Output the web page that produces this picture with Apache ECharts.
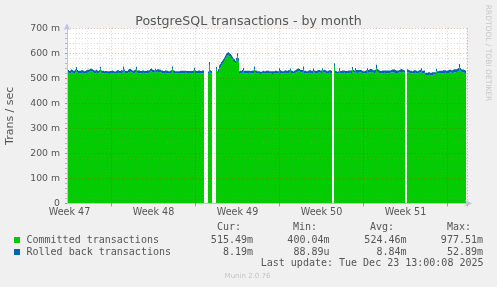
<!DOCTYPE html>
<html><head><meta charset="utf-8">
<script src="https://cdn.jsdelivr.net/npm/echarts@6/dist/echarts.min.js"></script>
<style>html,body{margin:0;padding:0;background:#f0f0f0;}#c{width:497px;height:287px;}</style>
</head><body><div id="c"></div>
<script>
const chartTitle = 'PostgreSQL transactions - by month';
const yAxisName = 'Trans / sec';
const seriesNames = ['Committed transactions', 'Rolled back transactions'];
const seriesColors = ['#00cc00', '#0066b3'];
const weekLabels = ['Week 47', 'Week 48', 'Week 49', 'Week 50', 'Week 51'];
const yMax = 700, yStep = 100;
const startTime = Date.UTC(2025, 10, 20, 8, 0); // first 2-hour slot
const stepHours = 2;

// Committed transactions (milli-trans/sec), one value per 2-hour slot
const committed = [
521,522,520,521,523,522,520,521,
524,532,523,
521,520,519,520,522,521,520,519,521,522,523,
526,528,527,526,524,
521,520,522,521,520,523,
538,
522,520,519,518,520,521,519,518,517,519,520,521,520,519,518,520,521,522,520,519,521,522,
537,526,
521,520,519,
523,525,526,524,522,
520,521,523,
536,
522,521,520,519,520,521,522,521,520,519,520,521,523,
526,527,525,524,522,
530,
524,526,525,523,524,522,521,520,521,522,
521,520,519,520,521,522,
536,
522,521,520,519,518,519,520,521,520,519,520,521,522,520,519,518,519,520,521,520,521,
531,
521,520,519,520,521,520,519,520,521,
null,null,null,null,
518,552,522,520,
null,null,null,null,
535,518,525,540,545,552,558,565,573,580,586,590,591,588,586,580,575,569,565,560,570,588,570,518,
521,520,522,531,521,520,519,520,521,522,520,519,520,521,
536,
522,521,520,519,518,517,518,519,520,519,518,519,520,521,520,519,518,517,518,519,520,521,520,519,
530,
521,520,519,520,521,522,521,520,521,522,
530,
521,520,519,521,522,524,526,
528,527,525,523,522,
537,
521,520,519,520,521,522,521,520,521,
529,
522,521,520,521,522,523,522,521,
531,
522,523,522,521,520,521,522,521,520,null,
null,
548,
520,519,518,519,
530,
520,519,520,521,522,521,520,519,520,521,522,521,
534,
523,522,
531,
522,521,522,523,524,522,521,520,519,520,521,
530,
522,523,524,525,523,522,521,522,
540,
526,523,521,520,519,520,521,522,521,520,519,520,521,522,523,524,523,522,521,520,521,522,523,524,525,524,523,522,null,
null,
524,523,522,521,520,519,520,521,522,521,520,521,522,523,530,521,520,522,
514,513,512,513,514,513,512,513,514,515,514,
527,
518,519,520,521,520,519,520,521,522,521,520,521,522,523,522,521,522,523,524,525,526,527,
545,
530,526,524,523,522,521,null
];

// Rolled back transactions (milli-trans/sec), stacked on top of committed
const rolledBack = [
10,11,9,10,12,11,10,9,11,13,10,9,10,11,12,10,9,8,10,11,
12,11,9,10,11,10,9,10,11,12,10,9,10,8,9,10,11,10,9,8,
9,10,11,10,9,10,9,8,9,10,11,10,9,10,11,9,10,9,8,9,
10,11,12,11,10,9,10,11,12,10,9,10,11,10,9,10,9,8,9,10,
11,10,9,11,12,10,9,10,8,9,10,11,12,10,9,10,9,8,9,10,
10,9,8,9,10,11,10,9,8,9,10,9,8,9,10,11,10,9,8,9,
10,11,10,9,8,9,10,11,10,9,10,11,10,9,10,11,10,null,null,null,
null,9,13,10,9,null,null,null,null,10,9,11,12,12,13,12,11,10,11,12,
12,13,12,11,12,11,10,11,10,11,12,10,10,9,10,11,10,9,10,11,
10,9,8,9,10,11,10,11,9,10,8,9,10,9,8,9,10,9,10,11,
10,9,8,9,10,11,10,9,10,9,8,9,10,11,10,9,8,9,10,9,
10,11,10,9,10,9,8,9,10,11,12,11,10,9,10,11,10,9,10,9,
8,9,10,11,10,9,10,9,8,9,10,11,10,9,10,9,10,11,10,9,
8,9,10,11,10,null,null,12,10,9,8,9,10,9,10,11,10,9,8,9,
10,11,10,9,10,11,10,9,10,11,12,11,10,9,10,9,8,9,10,11,
10,11,12,13,12,11,10,11,12,14,12,11,10,9,10,11,10,9,10,11,
12,11,10,9,10,11,12,13,12,11,10,9,10,11,12,11,10,9,null,null,
12,11,10,9,10,9,10,11,10,9,8,9,10,11,10,9,10,9,8,9,
10,11,10,9,10,11,10,9,10,11,10,9,10,9,10,11,12,11,10,9,
10,11,12,11,10,11,12,13,12,11,12,13,12,11,10,11,12,11,10,null
];

const statHeaders = ['Cur:', 'Min:', 'Avg:', 'Max:'];
const committedStats = ['515.49m', '400.04m', '524.46m', '977.51m'];
const rolledBackStats = ['8.19m', '88.89u', '8.84m', '52.89m'];
const lastUpdate = 'Last update: Tue Dec 23 13:00:08 2025';
const creditText = 'Munin 2.0.76';
const sideText = 'RRDTOOL / TOBI OETIKER';

// build slot categories (each slot = one 2-hour column)
const slots = [], isDay = [], isWeek = [], labelAt = {};
let wk = 0;
for (let i = 0; i < committed.length; i++) {
  const d = new Date(startTime + i * stepHours * 3600000);
  const pad = n => String(n).padStart(2, '0');
  slots.push(d.getUTCFullYear() + '-' + pad(d.getUTCMonth() + 1) + '-' + pad(d.getUTCDate()) + ' ' + pad(d.getUTCHours()) + ':00');
  const h = d.getUTCHours(), dow = d.getUTCDay();
  isDay.push(h === 0);
  isWeek.push(h === 0 && dow === 1);
  if (dow === 4 && h === 12 && wk < weekLabels.length) { labelAt[i] = weekLabels[wk++]; }
}

const chart = echarts.init(document.getElementById('c'), null, {renderer: 'canvas'});
const mono = '10px "DejaVu Sans Mono"';
const txt = '#555';
function T(x, y, text, align, extra) {
  return Object.assign({
    type: 'text', x: x, y: y, silent: true,
    style: {text: text, font: mono, fill: txt, align: align, textAlign: align, verticalAlign: 'middle', textVerticalAlign: 'middle'}
  }, extra || {});
}
const colLeft = [217, 293, 370, 447];
const colRight = [253, 329.5, 406.5, 483];
const graphics = [];
statHeaders.forEach((h, k) => graphics.push(T(colLeft[k], 227, h, 'left')));
graphics.push({type: 'rect', x: 14, y: 237, shape: {width: 6, height: 6}, style: {fill: seriesColors[0]}});
graphics.push({type: 'rect', x: 14, y: 249, shape: {width: 6, height: 6}, style: {fill: seriesColors[1]}});
graphics.push(T(26.5, 240, seriesNames[0], 'left'));
graphics.push(T(26.5, 252, seriesNames[1], 'left'));
committedStats.forEach((s, k) => graphics.push(T(colRight[k], 240, s, 'right')));
rolledBackStats.forEach((s, k) => graphics.push(T(colRight[k], 252, s, 'right')));
graphics.push(T(483.5, 263, lastUpdate, 'right'));
graphics.push({type: 'text', x: 247.5, y: 276, silent: true,
  style: {text: creditText, font: '7px "DejaVu Sans"', fill: '#c4c4c4', align: 'center', textAlign: 'center', verticalAlign: 'middle', textVerticalAlign: 'middle'}});
graphics.push({type: 'text', x: 487.5, y: 53, rotation: -Math.PI / 2, silent: true,
  style: {text: sideText, font: '7.5px "DejaVu Sans"', fill: '#c8c8c8', align: 'center', textAlign: 'center', verticalAlign: 'middle', textVerticalAlign: 'middle'}});

const minorGray = 'rgba(130,130,130,0.25)';
const majorRed = 'rgba(220,0,0,0.25)';
const axisBlue = '#c0c0f0';

chart.setOption({
  backgroundColor: '#f0f0f0',
  animation: false,
  textStyle: {fontFamily: '"DejaVu Sans"'},
  title: {text: chartTitle, left: 'center', top: 10,
    textStyle: {fontSize: 12.6, fontWeight: 'normal', color: txt, fontFamily: '"DejaVu Sans"'}},
  grid: {left: 67, top: 28.3, width: 400, height: 175, show: true, backgroundColor: '#ffffff', borderWidth: 0,
    containLabel: false, outerBoundsMode: 'none'},
  xAxis: [
    {type: 'category', data: slots, boundaryGap: true, z: 3, position: 'bottom',
      axisLine: {show: true, lineStyle: {color: axisBlue, width: 1}, symbol: ['none', 'arrow'], symbolSize: [5, 7], symbolOffset: [0, 5]},
      axisTick: {show: false},
      axisLabel: {interval: (i) => labelAt[i] !== undefined, formatter: (v, i) => labelAt[i] || '',
        color: txt, fontSize: 9.6, fontFamily: '"DejaVu Sans"', margin: 4},
      splitLine: {show: true, interval: (i) => isDay[i] && !isWeek[i], lineStyle: {color: minorGray, type: [1, 2], width: 1}}
    },
    {type: 'category', data: slots, boundaryGap: true, z: 3, position: 'bottom',
      axisLine: {show: false}, axisLabel: {show: false},
      axisTick: {show: true, interval: (i) => isWeek[i], length: 3, lineStyle: {color: 'rgba(220,0,0,0.5)'}},
      splitLine: {show: true, interval: (i) => isWeek[i], lineStyle: {color: majorRed, type: [1, 2], width: 1}}
    }
  ],
  yAxis: {type: 'value', min: 0, max: yMax, interval: yStep, z: 3,
    axisLine: {show: true, lineStyle: {color: axisBlue, width: 1}, symbol: ['none', 'arrow'], symbolSize: [5, 7], symbolOffset: [0, 5]},
    axisTick: {show: true, length: 2, lineStyle: {color: 'rgba(220,0,0,0.5)'}},
    minorTick: {show: true, splitNumber: 5, length: 2, lineStyle: {color: 'rgba(130,130,130,0.5)'}},
    splitLine: {show: true, lineStyle: {color: majorRed, type: [1, 2], width: 1}},
    minorSplitLine: {show: true, lineStyle: {color: minorGray, type: [1, 2], width: 1}},
    axisLabel: {formatter: (v) => v === 0 ? '0' : v + ' m', color: txt, fontSize: 9.3, margin: 7, fontFamily: '"DejaVu Sans"'},
    name: yAxisName, nameLocation: 'middle', nameGap: 51,
    nameTextStyle: {color: txt, fontSize: 11, fontFamily: '"DejaVu Sans"'}
  },
  series: [
    {name: seriesNames[0], type: 'bar', stack: 'total', data: committed, z: 1, silent: true,
      barCategoryGap: '0%', itemStyle: {color: seriesColors[0]}},
    {name: seriesNames[1], type: 'bar', stack: 'total', data: rolledBack, z: 1, silent: true,
      barCategoryGap: '0%', itemStyle: {color: seriesColors[1]}}
  ],
  graphic: graphics
});
</script></body></html>
